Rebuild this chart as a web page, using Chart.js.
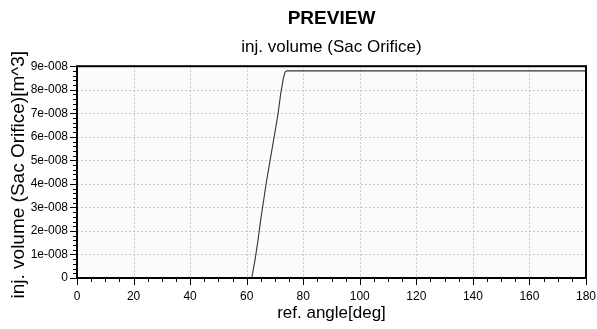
<!DOCTYPE html>
<html>
<head>
<meta charset="utf-8">
<script src="https://cdn.jsdelivr.net/npm/chart.js@4.4.1/dist/chart.umd.min.js"></script>
<style>
  html, body { margin: 0; padding: 0; background: #fff; }
  #wrap { width: 597px; height: 329px; position: relative; }
</style>
</head>
<body>
<div id="wrap"><canvas id="c"></canvas></div>
<script>
const angles = [0, 61.8, 63, 64, 65, 66, 67, 68, 69, 70, 71, 72, 73, 73.6, 74.2, 180];
const volumes = [0, 0, 0.8e-8, 1.6e-8, 2.5e-8, 3.3e-8, 4.1e-8, 4.8e-8, 5.5e-8, 6.2e-8, 6.9e-8, 7.8e-8, 8.5e-8, 8.75e-8, 8.8e-8, 8.8e-8];
const xTicks = [0, 20, 40, 60, 80, 100, 120, 140, 160, 180];
const yTicks = [0, 1e-8, 2e-8, 3e-8, 4e-8, 5e-8, 6e-8, 7e-8, 8e-8, 9e-8];

const FONT = "'Liberation Sans', Arial, sans-serif";

// grid, border and minor ticks, drawn from the chart's own scales
const frame = {
  id: 'frame',
  beforeDatasetsDraw(chart) {
    const { ctx, chartArea: a, scales: { x, y } } = chart;
    ctx.save();
    ctx.fillStyle = '#fbfbfb';
    ctx.fillRect(a.left, a.top, a.right - a.left, a.bottom - a.top);
    ctx.strokeStyle = '#c8c8c8';
    ctx.lineWidth = 1;
    ctx.setLineDash([2, 2]);
    xTicks.forEach(v => {
      const px = Math.round(x.getPixelForValue(v)) + 0.5;
      ctx.beginPath(); ctx.moveTo(px, a.top); ctx.lineTo(px, a.bottom); ctx.stroke();
    });
    yTicks.forEach(v => {
      const py = Math.round(y.getPixelForValue(v)) + 0.5;
      ctx.beginPath(); ctx.moveTo(a.left, py); ctx.lineTo(a.right, py); ctx.stroke();
    });
    ctx.restore();
  },
  afterDatasetsDraw(chart) {
    const { ctx, chartArea: a, scales: { x, y } } = chart;
    ctx.save();
    ctx.strokeStyle = '#000';
    ctx.lineWidth = 1;
    // minor + major ticks on x
    for (let v = 0; v <= 180; v += 5) {
      const px = Math.round(x.getPixelForValue(v)) + 0.5;
      const len = v % 20 === 0 ? 7 : 4;
      ctx.beginPath(); ctx.moveTo(px, a.bottom); ctx.lineTo(px, a.bottom + len); ctx.stroke();
    }
    // minor + major ticks on y
    for (let i = 0; i <= 45; i++) {
      const py = Math.round(y.getPixelForValue(i * 0.2e-8)) + 0.5;
      const len = i % 5 === 0 ? 7 : 4;
      ctx.beginPath(); ctx.moveTo(a.left, py); ctx.lineTo(a.left - len, py); ctx.stroke();
    }
    ctx.lineWidth = 2;
    ctx.strokeRect(a.left, a.top, a.right - a.left, a.bottom - a.top);
    ctx.restore();
  }
};

new Chart(document.getElementById('c'), {
  type: 'line',
  data: {
    datasets: [{
      data: angles.map((a, i) => ({ x: a, y: volumes[i] })),
      borderColor: '#333',
      borderWidth: 1.1,
      pointRadius: 0,
      tension: 0,
      fill: false
    }]
  },
  options: {
    responsive: true,
    maintainAspectRatio: false,
    animation: false,
    layout: { padding: { top: 0, right: 11, left: 7, bottom: 5 } },
    plugins: {
      legend: { display: false },
      tooltip: { enabled: false },
      title: {
        display: true, text: 'PREVIEW', color: '#000', fullSize: false,
        font: { family: FONT, size: 19, weight: 'bold' }, padding: { top: 7, bottom: 7 }
      },
      subtitle: {
        display: true, text: 'inj. volume (Sac Orifice)', color: '#000', fullSize: false,
        font: { family: FONT, size: 17 }, padding: { top: 0, bottom: 9 }
      }
    },
    scales: {
      x: {
        type: 'linear', min: 0, max: 180,
        afterBuildTicks: s => { s.ticks = xTicks.map(v => ({ value: v })); },
        afterFit: s => { s.height = 46; s.paddingRight = 0; s.paddingLeft = 0; },
        grid: { display: false, drawTicks: false },
        border: { display: false },
        ticks: { color: '#000', font: { family: FONT, size: 12 }, padding: 11, maxRotation: 0 },
        title: { display: true, text: 'ref. angle[deg]', color: '#000', font: { family: FONT, size: 17 }, padding: { top: 0, bottom: 0 } }
      },
      y: {
        type: 'linear', min: 0, max: 9e-8,
        afterBuildTicks: s => { s.ticks = yTicks.map(v => ({ value: v })); },
        afterFit: s => { s.width = 70; },
        grid: { display: false, drawTicks: false },
        border: { display: false },
        ticks: {
          color: '#000', font: { family: FONT, size: 12 }, padding: 9,
          callback: v => { const n = Math.round(v * 1e8); return n === 0 ? '0' : n + 'e-008'; }
        },
        title: { display: true, text: 'inj. volume (Sac Orifice)[m^3] ', color: '#000', font: { family: FONT, size: 19 }, padding: { top: 0, bottom: 0 } }
      }
    }
  },
  plugins: [frame]
});
</script>
</body>
</html>
